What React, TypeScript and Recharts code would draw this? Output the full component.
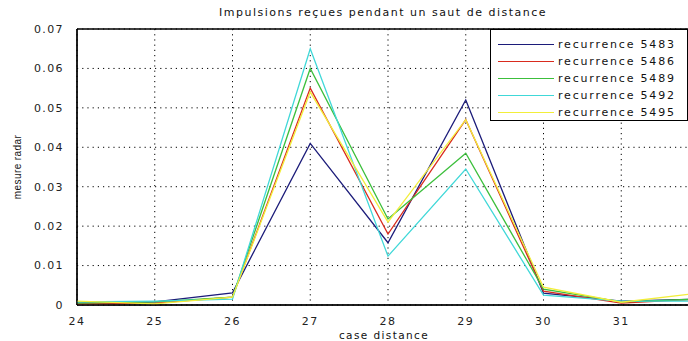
import { CartesianGrid, Line, LineChart, ReferenceLine, XAxis, YAxis } from 'recharts';

const distances = [24, 25, 26, 27, 28, 29, 30, 31, 32];
const rec5483 = [0.0005, 0.0008, 0.0031, 0.041, 0.0158, 0.052, 0.003, 0.001, 0.0015];
const rec5486 = [0.0003, 0.0005, 0.002, 0.055, 0.018, 0.047, 0.0035, 0.0005, 0.0015];
const rec5489 = [0.0005, 0.0008, 0.002, 0.06, 0.0218, 0.0385, 0.004, 0.0008, 0.0015];
const rec5492 = [0.0008, 0.001, 0.0015, 0.065, 0.0124, 0.0345, 0.0025, 0.001, 0.001];
const rec5495 = [0.001, 0.0003, 0.002, 0.054, 0.021, 0.047, 0.0045, 0.0007, 0.003];
const xTicks = [24, 25, 26, 27, 28, 29, 30, 31];
const yTicks = [0, 0.01, 0.02, 0.03, 0.04, 0.05, 0.06, 0.07];

const series = [
  { key: 'r5483', name: 'recurrence 5483', values: rec5483, color: '#1c1c7a' },
  { key: 'r5486', name: 'recurrence 5486', values: rec5486, color: '#d92b1e' },
  { key: 'r5489', name: 'recurrence 5489', values: rec5489, color: '#3cbf3c' },
  { key: 'r5492', name: 'recurrence 5492', values: rec5492, color: '#40d8d8' },
  { key: 'r5495', name: 'recurrence 5495', values: rec5495, color: '#f2ee3a' },
];

const data = distances.map((d, i) => {
  const row: Record<string, number> = { d };
  series.forEach((s) => {
    row[s.key] = s.values[i];
  });
  return row;
});

const font = '"DejaVu Sans", Verdana, sans-serif';
const tickStyle = { fontFamily: font, fontSize: 11, fill: '#222', letterSpacing: 1.4 };

function LegendBox() {
  return (
    <div
      style={{
        position: 'absolute',
        left: 490,
        top: 29,
        width: 198,
        height: 92,
        background: '#fff',
        border: '1px solid #000',
        boxSizing: 'border-box',
        padding: '6px 0 0 7px',
      }}
    >
      {series.map((s) => (
        <div key={s.key} style={{ display: 'flex', alignItems: 'center', height: 17, whiteSpace: 'nowrap' }}>
          <div style={{ width: 56, height: 1, flexShrink: 0, background: s.color, marginRight: 4 }} />
          <span style={{ fontFamily: font, fontSize: 11, color: '#111', letterSpacing: 1.8, whiteSpace: 'nowrap' }}>
            {s.name}
          </span>
        </div>
      ))}
    </div>
  );
}

export default function App() {
  return (
    <div
      style={{
        position: 'absolute',
        left: 0,
        top: 0,
        width: 688,
        height: 341,
        overflow: 'hidden',
        background: '#fff',
      }}
    >
      <div
        style={{
          position: 'absolute',
          left: 0,
          width: 766,
          top: 6,
          textAlign: 'center',
          fontFamily: font,
          fontSize: 11,
          color: '#111',
          letterSpacing: 1.5,
        }}
      >
        Impulsions reçues pendant un saut de distance
      </div>
      <LineChart
        width={720}
        height={341}
        data={data}
        margin={{ top: 29, right: 21, left: 0, bottom: 0 }}
      >
        <CartesianGrid stroke="#000" strokeDasharray="1.2 4" />
        <XAxis
          dataKey="d"
          type="number"
          domain={[24, 32]}
          ticks={xTicks}
          height={36}
          stroke="#000"
          tickLine={false}
          tickMargin={6}
          tick={tickStyle}
          label={{
            value: 'case distance',
            position: 'insideBottom',
            offset: 2,
            dx: -4,
            style: { fontFamily: font, fontSize: 10.5, fill: '#111', letterSpacing: 1.4 },
          }}
        />
        <YAxis
          type="number"
          domain={[0, 0.07]}
          ticks={yTicks}
          width={77}
          stroke="#000"
          tickLine={false}
          tickMargin={7}
          tick={tickStyle}
          tickFormatter={(v: number) => (v === 0 ? '0' : v.toFixed(2))}
          label={{
            value: 'mesure radar',
            angle: -90,
            position: 'insideLeft',
            offset: 17,
            style: { fontFamily: '"Liberation Sans Narrow", "Liberation Sans", sans-serif', fontSize: 10, fill: '#111', textAnchor: 'middle', letterSpacing: 0.4 },
          }}
        />
        <ReferenceLine y={0.07} stroke="#000" strokeWidth={1.5} />
        <ReferenceLine y={0} stroke="#000" strokeWidth={1.5} />
        <ReferenceLine x={24} stroke="#000" strokeWidth={1.5} />
        {series.map((s) => (
          <Line
            key={s.key}
            dataKey={s.key}
            name={s.name}
            type="linear"
            stroke={s.color}
            strokeWidth={1.3}
            dot={false}
            isAnimationActive={false}
          />
        ))}
      </LineChart>
      <LegendBox />
    </div>
  );
}
